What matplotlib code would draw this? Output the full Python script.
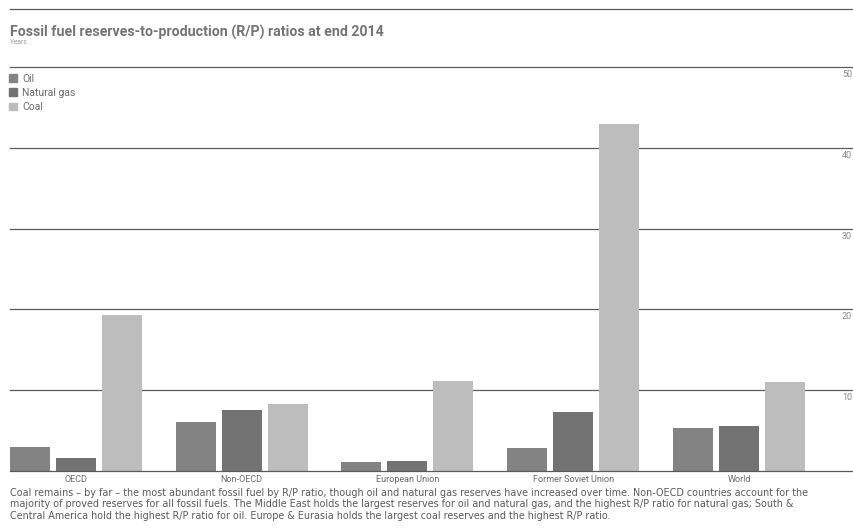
import matplotlib
matplotlib.use("Agg")
import matplotlib.pyplot as plt
import matplotlib.transforms as mtransforms
from matplotlib.patches import Rectangle
import numpy as np

categories = ["OECD", "Non-OECD", "European Union", "Former Soviet Union", "World"]
series_names = ["Oil", "Natural gas", "Coal"]
oil = [30, 61, 11, 28, 53]
gas = [16, 76, 12, 73, 56]
coal = [193, 83, 111, 430, 110]
yticks = [100, 200, 300, 400, 500]
ytick_labels = ["10", "20", "30", "40", "50"]

title = "Fossil fuel reserves-to-production (R/P) ratios at end 2014"
subtitle = "Years"
caption = ("Coal remains \u2013 by far \u2013 the most abundant fossil fuel by R/P ratio, though oil and natural gas reserves have increased over time. Non-OECD countries account for the\n"
           "majority of proved reserves for all fossil fuels. The Middle East holds the largest reserves for oil and natural gas, and the highest R/P ratio for natural gas; South &\n"
           "Central America hold the highest R/P ratio for oil. Europe & Eurasia holds the largest coal reserves and the highest R/P ratio.")

colors = ["#838383", "#737373", "#bdbdbd"]
text_color = "#6a6a6a"
line_color = "#5a5a5a"

W, H = 854, 529
fig = plt.figure(figsize=(W / 100, H / 100), dpi=100)
plt.rcParams['font.family'] = ['Roboto', 'DejaVu Sans']

ax = fig.add_axes([10 / W, 1 - 471 / H, 844 / W, (471 - 67) / H])
x = np.arange(len(categories))
step = 46 / 165.75
width = 40 / 165.75
for k, vals in enumerate([oil, gas, coal]):
    ax.bar(x + (k - 1) * step, vals, width=width, color=colors[k], zorder=1, label=series_names[k])

ax.set_xlim((10 - 76) / 165.75, (854 - 76) / 165.75)
ax.set_ylim(0, 500)
for s in ax.spines.values():
    s.set_visible(False)
ax.set_yticks([])
ax.set_xticks(x)
ax.set_xticklabels(categories, fontsize=6.5, color=text_color)
ax.tick_params(axis='x', length=0, pad=3)

for v in [0] + yticks:
    ax.axhline(v, color=line_color, lw=0.9, zorder=2 if v == 0 else 0, clip_on=False)

trans = mtransforms.blended_transform_factory(fig.transFigure, ax.transData)
offset = mtransforms.ScaledTranslation(0, -3 / 100, fig.dpi_scale_trans)
for v, lab in zip(yticks, ytick_labels):
    ax.text(842 / W, v, lab, transform=trans + offset, ha='left', va='top',
            fontsize=6.5, color="#888888", clip_on=False)

# top rule
fig.add_artist(plt.Line2D([10 / W, 1.0], [1 - 9 / H, 1 - 9 / H], color=line_color, lw=0.9))

fig.text(10 / W, 1 - 32 / H, title, fontsize=10.2, fontweight='bold', color="#747474", va='center', ha='left')
fig.text(10 / W, 1 - 42.5 / H, subtitle, fontsize=4.8, color="#9a9a9a", va='center', ha='left')

# legend
handles = [Rectangle((0, 0), 1, 1, color=c) for c in colors]
leg = fig.legend(handles, series_names, loc='upper left', bbox_to_anchor=(9 / W, 1 - 73.5 / H),
                 frameon=False, fontsize=7.5, handlelength=0.75, handleheight=0.75,
                 handletextpad=0.5, labelspacing=0.42, borderpad=0, borderaxespad=0)
for t in leg.get_texts():
    t.set_color(text_color)

fig.text(10 / W, 1 - 487.5 / H, caption, fontsize=6.9, color="#5a5a5a", va='top', ha='left',
         linespacing=1.22, family=['DejaVu Sans'])

fig.savefig("out.png", dpi=100)
